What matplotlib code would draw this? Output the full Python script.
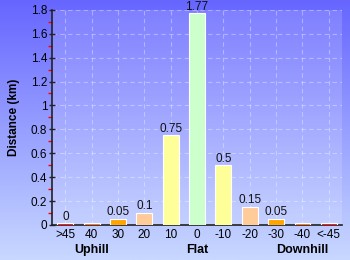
import numpy as np
import matplotlib
matplotlib.use("Agg")
import matplotlib.pyplot as plt
from matplotlib.ticker import MultipleLocator, FuncFormatter

# gradient categories and distances (km)
categories = [">45", "40", "30", "20", "10", "0", "-10", "-20", "-30", "-40", "<-45"]
distances = [0.0, 0.0, 0.05, 0.1, 0.75, 1.77, 0.5, 0.15, 0.05, 0.0, 0.0]
labels = ["0", "", "0.05", "0.1", "0.75", "1.77", "0.5", "0.15", "0.05", "", ""]
colors = ["#ff0000", "#ff6600", "#ffa500", "#ffcc99", "#ffff99", "#ccffcc",
          "#ffff99", "#ffcc99", "#ffa500", "#ff6600", "#ff0000"]
groups = ["Uphill", "Flat", "Downhill"]
group_pos = [1, 5, 9]

plt.rcParams['font.family'] = ['Liberation Sans', 'DejaVu Sans']

fig = plt.figure(figsize=(3.5, 2.6), dpi=100)

# background gradient across the whole figure
bg = fig.add_axes([0, 0, 1, 1], zorder=-10)
grad = np.linspace(0, 1, 256).reshape(-1, 1)
cmap = matplotlib.colors.LinearSegmentedColormap.from_list("bg", ["#6666ff", "#c8d8ff"])
bg.imshow(grad, aspect="auto", cmap=cmap, extent=[0, 1, 0, 1], origin="upper")
bg.axis("off")

ax = fig.add_axes([0.149, 0.135, 0.828, 0.827])
ax.patch.set_facecolor("white")
ax.patch.set_alpha(0.15)

x = np.arange(len(categories))
# tiny bars for zero values so the colour still shows
shown = [max(d, 0.012) for d in distances]
ax.bar(x, shown, width=0.6, color=colors, edgecolor="white", linewidth=0.8, zorder=3)
for xi, h, lab in zip(x, shown, labels):
    if lab:
        ax.text(xi, h + 0.005, lab, ha="center", va="bottom", fontsize=8.5,
                color="#111111", clip_on=False, zorder=4)

ax.set_xlim(-0.5, len(categories) - 0.5)
ax.set_ylim(0, 1.8)
ax.set_xticks(x)
ax.set_xticklabels(categories, fontsize=8.5)
ax.yaxis.set_major_locator(MultipleLocator(0.2))
ax.yaxis.set_minor_locator(MultipleLocator(0.1))
ax.yaxis.set_major_formatter(FuncFormatter(lambda v, p: "%g" % round(v, 1)))
ax.tick_params(axis="y", which="major", direction="inout", length=5, width=1,
               color="#222222", pad=1, labelsize=8.5)
ax.tick_params(axis="y", which="minor", direction="out", length=3, width=1, color="#ff0000")
ax.tick_params(axis="x", length=0, pad=3)

ax.grid(True, color="white", alpha=0.35, linestyle=(0, (4, 3)), linewidth=0.8, zorder=0)
ax.set_axisbelow(True)

for side in ["top", "right"]:
    ax.spines[side].set_visible(False)
ax.spines["left"].set_color("#222222")
ax.spines["bottom"].set_color("#222222")
ax.spines["left"].set_linewidth(1.2)
ax.spines["bottom"].set_linewidth(1.2)

ax.set_ylabel("Distance (km)", fontsize=8.5, fontweight="bold", labelpad=8)

for g, gp in zip(groups, group_pos):
    ax.text(gp, -0.16, g, ha="center", va="top", fontsize=9, fontweight="bold",
            transform=ax.transData, clip_on=False)

fig.savefig("out.png", dpi=100)
